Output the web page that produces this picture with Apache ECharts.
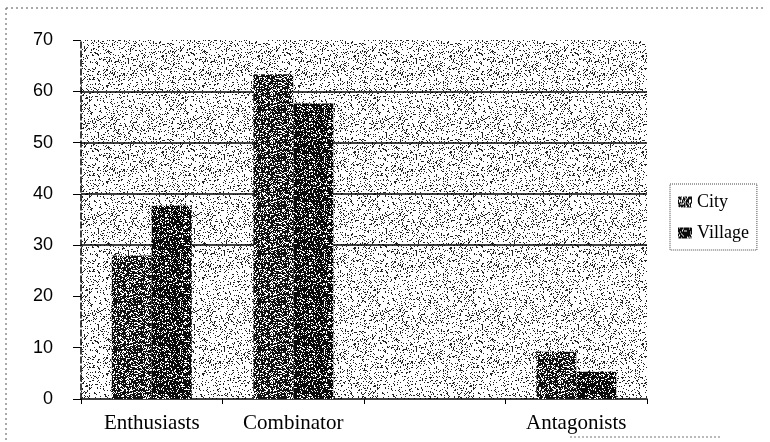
<!DOCTYPE html>
<html>
<head>
<meta charset="utf-8">
<script src="https://cdn.jsdelivr.net/npm/echarts@6/dist/echarts.min.js"></script>
<style>
html,body{margin:0;padding:0;background:#fff;}
#chart{width:770px;height:442px;}
</style>
</head>
<body>
<div id="chart"></div>
<script>
// ---- data ----
var categories = ['Enthusiasts', 'Combinator', '', 'Antagonists'];
var cityValues = [28, 63.3, '-', 9.2];
var villageValues = [37.7, 57.6, '-', 5.3];
var seriesNames = ['City', 'Village'];
var yTicks = [0, 10, 20, 30, 40, 50, 60, 70];

// ---- stipple textures (deterministic) ----
function stipple(size, density, base, dot, seed) {
  var c = document.createElement('canvas');
  c.width = size; c.height = size;
  var ctx = c.getContext('2d');
  ctx.fillStyle = base;
  ctx.fillRect(0, 0, size, size);
  ctx.fillStyle = dot;
  var s = seed >>> 0;
  for (var y = 0; y < size; y++) {
    for (var x = 0; x < size; x++) {
      s = (s * 1664525 + 1013904223) >>> 0;
      if ((s >>> 8) / 16777216 < density) ctx.fillRect(x, y, 1, 1);
    }
  }
  return c;
}
var bgPattern = {image: stipple(96, 0.16, '#ffffff', '#222222', 12345), repeat: 'repeat'};
var cityPattern = {image: stipple(48, 0.33, '#111111', '#ffffff', 777), repeat: 'repeat'};
var villagePattern = {image: stipple(48, 0.22, '#0a0a0a', '#ffffff', 4242), repeat: 'repeat'};

var chart = echarts.init(document.getElementById('chart'), null, {renderer: 'canvas'});
chart.setOption({
  animation: false,
  backgroundColor: '#ffffff',
  grid: {
    left: 81, right: 123, top: 40, bottom: 43,
    show: true, backgroundColor: bgPattern, borderWidth: 0
  },
  legend: {
    data: seriesNames,
    orient: 'vertical',
    left: 670, top: 184,
    padding: [9, 8, 8, 8],
    itemGap: 13,
    itemWidth: 14, itemHeight: 11,
    icon: 'rect',
    borderColor: '#444', borderWidth: 1, borderType: 'dotted',
    textStyle: {fontFamily: 'Liberation Serif', fontSize: 18, color: '#000'}
  },
  xAxis: {
    type: 'category',
    data: categories,
    axisLine: {lineStyle: {color: '#000', width: 1.5}},
    axisTick: {show: true, length: 5, lineStyle: {color: '#000'}},
    axisLabel: {fontFamily: 'Liberation Serif', fontSize: 21, color: '#000', margin: 14},
    splitLine: {show: false}
  },
  yAxis: {
    type: 'value',
    min: 0, max: 70, interval: 10,
    axisLine: {show: true, lineStyle: {color: '#000', width: 1.5, type: 'dashed'}},
    axisTick: {show: true, length: 8, lineStyle: {color: '#000'}},
    axisLabel: {fontFamily: 'Liberation Sans', fontSize: 18, color: '#000', margin: 28,
      formatter: function (v) { return yTicks.indexOf(v) >= 0 ? String(v) : ''; }},
    splitLine: {show: true, lineStyle: {width: 1.5,
      color: ['rgba(0,0,0,0)', 'rgba(0,0,0,0)', 'rgba(0,0,0,0)', '#000', '#000', '#000', '#000', 'rgba(0,0,0,0)']}}
  },
  series: [
    {name: seriesNames[0], type: 'bar', data: cityValues, barWidth: 40, barGap: '0%',
     itemStyle: {color: cityPattern}},
    {name: seriesNames[1], type: 'bar', data: villageValues, barWidth: 40, barGap: '0%',
     itemStyle: {color: villagePattern}}
  ],
  graphic: [
    {type: 'line', shape: {x1: 6, y1: 8, x2: 764, y2: 8}, style: {stroke: '#555', lineWidth: 1, lineDash: [2, 3]}},
    {type: 'line', shape: {x1: 6, y1: 8, x2: 6, y2: 442}, style: {stroke: '#555', lineWidth: 1, lineDash: [2, 3]}},
    {type: 'line', shape: {x1: 570, y1: 437, x2: 720, y2: 437}, style: {stroke: '#777', lineWidth: 1, lineDash: [2, 2]}}
  ]
});
</script>
</body>
</html>
